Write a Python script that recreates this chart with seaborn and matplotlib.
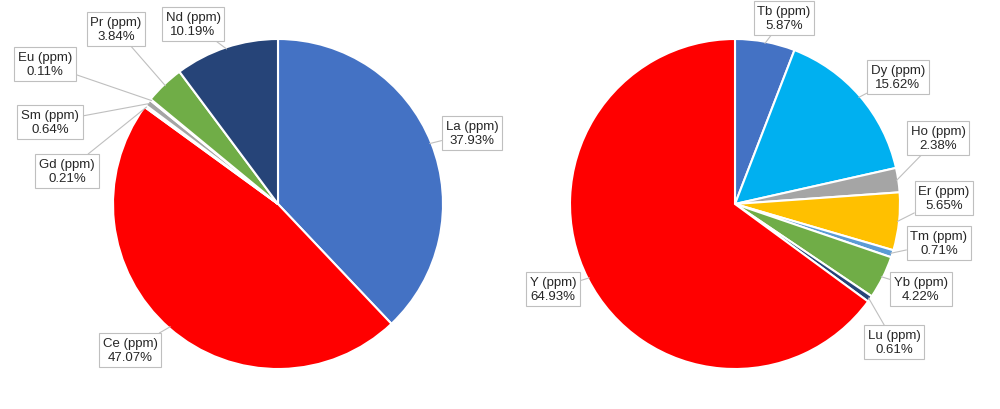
import numpy as np
import matplotlib
matplotlib.use("Agg")
import matplotlib.pyplot as plt
import seaborn as sns

sns.set_theme(style="white")
plt.rcParams['font.family'] = ['Liberation Sans', 'DejaVu Sans']

# light rare earths (left pie)
lree_names = ['La', 'Ce', 'Gd', 'Sm', 'Eu', 'Pr', 'Nd']
lree_pct = [37.93, 47.07, 0.21, 0.64, 0.11, 3.84, 10.19]
lree_colors = ['#4472C4', '#FF0000', '#D9D9D9', '#A5A5A5', '#FFC000', '#70AD47', '#264478']

# heavy rare earths + Y (right pie)
hree_names = ['Tb', 'Dy', 'Ho', 'Er', 'Tm', 'Yb', 'Lu', 'Y']
hree_pct = [5.87, 15.62, 2.38, 5.65, 0.71, 4.22, 0.61, 64.93]
hree_colors = ['#4472C4', '#00B0F0', '#A5A5A5', '#FFC000', '#5B9BD5', '#70AD47', '#264478', '#FF0000']

# label box centres in pixels from top-left (layout only)
lree_label_px = [(472, 134), (130, 351), (67, 172), (50, 123), (45, 65), (116, 30), (193, 25)]
hree_label_px = [(784, 19), (898, 78), (938, 139), (944, 199), (939, 244), (921, 290), (894, 343), (553, 290)]

W, H = 1000, 410
fig = plt.figure(figsize=(W / 100, H / 100), dpi=100)


def draw_pie(cx, cy, r, names, pct, colors, label_px):
    ax = fig.add_axes([(cx - r) / W, (H - cy - r) / H, 2 * r / W, 2 * r / H])
    wedges, _ = ax.pie(pct, colors=colors, startangle=90, counterclock=False,
                       radius=1, wedgeprops=dict(edgecolor='white', linewidth=1.5))
    ax.set_xlim(-1, 1)
    ax.set_ylim(-1, 1)
    ax.set_aspect('equal')
    ax.axis('off')
    for w, name, p, (lx, ly) in zip(wedges, names, pct, label_px):
        ang = np.deg2rad((w.theta1 + w.theta2) / 2)
        xy = (np.cos(ang) * 0.99, np.sin(ang) * 0.99)
        ax.annotate(f"{name} (ppm)\n{p:.2f}%", xy=xy, xytext=(lx, H - ly),
                    textcoords='figure pixels', ha='center', va='center',
                    fontsize=9.5, color='#262626', linespacing=1.2,
                    bbox=dict(boxstyle='square,pad=0.28', fc='white', ec='#BFBFBF', lw=0.8),
                    arrowprops=dict(arrowstyle='-', color='#BFBFBF', lw=0.8,
                                    shrinkA=0, shrinkB=0),
                    annotation_clip=False)
    return ax


draw_pie(278, 205, 165, lree_names, lree_pct, lree_colors, lree_label_px)
draw_pie(735, 205, 165, hree_names, hree_pct, hree_colors, hree_label_px)

fig.savefig('out.png', dpi=100, facecolor='white')
